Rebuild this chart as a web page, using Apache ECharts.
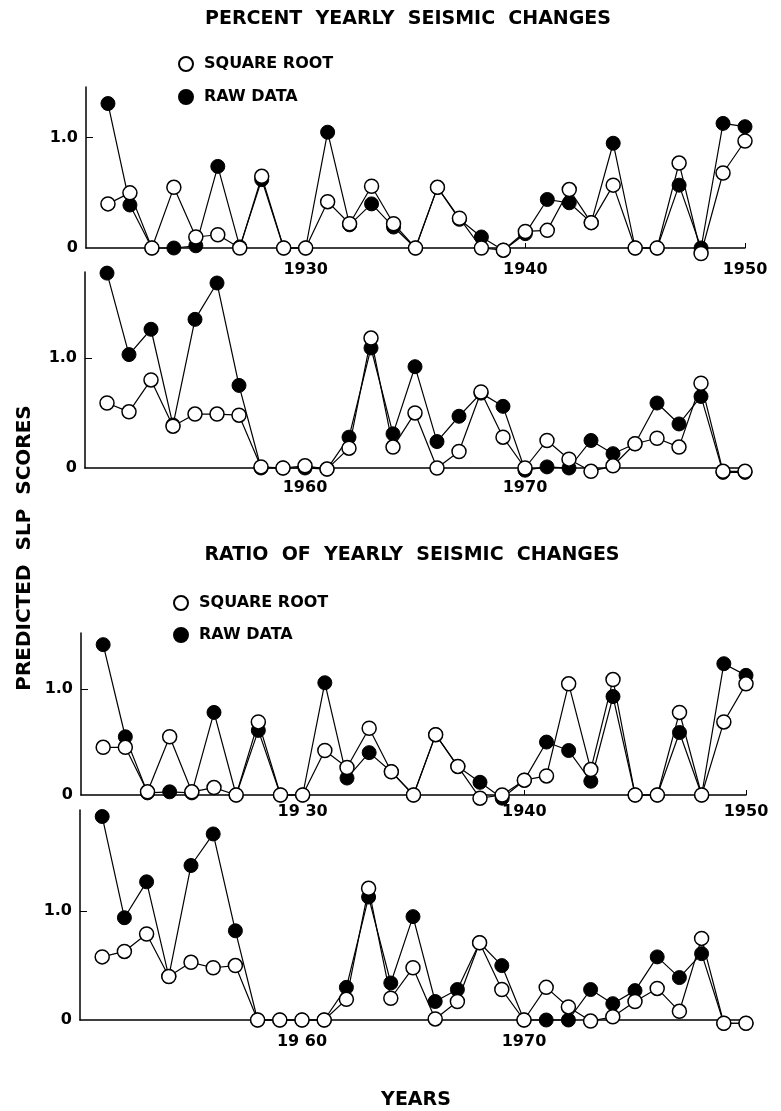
<!DOCTYPE html>
<html>
<head>
<meta charset="utf-8">
<title>Predicted SLP scores</title>
<script src="https://cdn.jsdelivr.net/npm/echarts@6/dist/echarts.min.js"></script>
<style>
  html, body { margin: 0; padding: 0; background: #fff; }
  #main { width: 781px; height: 1111px; }
</style>
</head>
<body>
<div id="main"></div>
<script>
// years on the two time strips
var yearsA = [1921, 1922, 1923, 1924, 1925, 1926, 1927, 1928, 1929, 1930,
              1931, 1932, 1933, 1934, 1935, 1936, 1937, 1938, 1939, 1940,
              1941, 1942, 1943, 1944, 1945, 1946, 1947, 1948, 1949, 1950];
var yearsB = [1951, 1952, 1953, 1954, 1955, 1956, 1957, 1958, 1959, 1960,
              1961, 1962, 1963, 1964, 1965, 1966, 1967, 1968, 1969, 1970,
              1971, 1972, 1973, 1974, 1975, 1976, 1977, 1978, 1979, 1980];

// percent yearly seismic changes
var pctSqrtA = [0.40, 0.50, 0, 0.55, 0.10, 0.12, 0, 0.65, 0, 0,
                0.42, 0.22, 0.56, 0.22, 0, 0.55, 0.27, 0, -0.02, 0.15,
                0.16, 0.53, 0.23, 0.57, 0, 0, 0.77, -0.05, 0.68, 0.97];
var pctRawA  = [1.31, 0.39, 0, 0, 0.02, 0.74, 0.01, 0.62, 0, 0,
                1.05, 0.21, 0.40, 0.19, 0, 0.55, 0.26, 0.10, -0.02, 0.13,
                0.44, 0.41, 0.23, 0.95, 0, 0, 0.57, 0, 1.13, 1.10];
var pctSqrtB = [0.59, 0.51, 0.80, 0.38, 0.49, 0.49, 0.48, 0.01, 0, 0.02,
                -0.01, 0.18, 1.18, 0.19, 0.50, 0, 0.15, 0.69, 0.28, 0,
                0.25, 0.08, -0.03, 0.02, 0.22, 0.27, 0.19, 0.77, -0.03, -0.03];
var pctRawB  = [1.77, 1.03, 1.26, 0.39, 1.35, 1.68, 0.75, 0, 0, 0,
                -0.01, 0.28, 1.09, 0.31, 0.92, 0.24, 0.47, 0.68, 0.56, -0.02,
                0.01, 0, 0.25, 0.13, 0.22, 0.59, 0.40, 0.65, -0.04, -0.04];

// ratio of yearly seismic changes
var ratSqrtA = [0.45, 0.45, 0.03, 0.55, 0.03, 0.07, 0, 0.69, 0, 0,
                0.42, 0.26, 0.63, 0.22, 0, 0.57, 0.27, -0.03, 0, 0.14,
                0.18, 1.05, 0.24, 1.09, 0, 0, 0.78, 0, 0.69, 1.05];
var ratRawA  = [1.42, 0.55, 0.02, 0.03, 0.02, 0.78, 0, 0.61, 0, 0,
                1.06, 0.16, 0.40, 0.22, 0, 0.57, 0.27, 0.12, -0.03, 0.14,
                0.50, 0.42, 0.13, 0.93, 0, 0, 0.59, 0, 1.24, 1.13];
var ratSqrtB = [0.58, 0.63, 0.79, 0.40, 0.53, 0.48, 0.50, 0, 0, 0,
                0, 0.19, 1.21, 0.20, 0.48, 0.01, 0.17, 0.71, 0.28, 0,
                0.30, 0.12, -0.01, 0.03, 0.17, 0.29, 0.08, 0.75, -0.03, -0.03];
var ratRawB  = [1.87, 0.94, 1.27, 0.40, 1.42, 1.71, 0.82, 0, 0, 0,
                0, 0.30, 1.13, 0.34, 0.95, 0.17, 0.28, 0.71, 0.50, 0,
                0, 0, 0.28, 0.15, 0.27, 0.58, 0.39, 0.61, -0.03, -0.03];

// tick labels
var xLabelsTop = [1930, 1940, 1950];
var xLabelsBottom = [1960, 1970];
var yLabels = [0, 1];

var FONT = 'DejaVu Sans';
var chart = echarts.init(document.getElementById('main'));

function pairs(xs, ys) {
  return xs.map(function (x, i) { return [x, ys[i]]; });
}

function xAxis(idx, min, max, labels, margin, fmt) {
  return {
    gridIndex: idx, type: 'value', min: min, max: max,
    axisLine: { lineStyle: { color: '#000', width: 1.5 } },
    axisTick: { show: true, inside: true, length: 5, customValues: labels, lineStyle: { color: '#000' } },
    axisLabel: { customValues: labels, margin: margin, color: '#000', fontFamily: FONT, fontWeight: 'bold', fontSize: 16,
                 formatter: fmt || function (v) { return String(v); } },
    splitLine: { show: false }
  };
}

function yAxis(idx, max) {
  return {
    gridIndex: idx, type: 'value', min: 0, max: max,
    axisLine: { show: true, lineStyle: { color: '#000', width: 1.5 } },
    axisTick: { show: true, inside: true, length: 7, customValues: [1], lineStyle: { color: '#000' } },
    axisLabel: { customValues: yLabels, margin: 8, color: '#000', fontFamily: FONT, fontWeight: 'bold', fontSize: 16,
                 formatter: function (v) { return v === 0 ? '0' : v.toFixed(1); } },
    splitLine: { show: false }
  };
}

function line(name, idx, xs, ys, open) {
  return {
    name: name, type: 'line', xAxisIndex: idx, yAxisIndex: idx,
    data: pairs(xs, ys), clip: false,
    symbol: 'circle', symbolSize: 14, showAllSymbol: true,
    lineStyle: { color: '#000', width: 1.2 },
    itemStyle: open ? { color: '#fff', borderColor: '#000', borderWidth: 1.5 }
                    : { color: '#000', borderColor: '#000', borderWidth: 1 },
    z: open ? 3 : 2
  };
}

// the lower strips print "19 30" / "19 60" with a gap
function spaced(v) { var s = String(v); return s.slice(0, 2) + ' ' + s.slice(2); }

var legendText = { color: '#000', fontFamily: FONT, fontWeight: 'bold', fontSize: 16, padding: [0, 0, 0, 6] };

var option = {
  animation: false,
  backgroundColor: '#fff',
  grid: [
    { left: 86, top: 87, width: 659, height: 161 },
    { left: 85, top: 272, width: 660, height: 196 },
    { left: 81, top: 633, width: 665, height: 162 },
    { left: 80, top: 810, width: 666, height: 210 }
  ],
  xAxis: [
    xAxis(0, 1920, 1950, xLabelsTop, 14),
    xAxis(1, 1950, 1980, xLabelsBottom, 12),
    xAxis(2, 1920, 1950, xLabelsTop, 9, function (v) { return v === 1930 ? spaced(v) : String(v); }),
    xAxis(3, 1950, 1980, xLabelsBottom, 14, function (v) { return v === 1960 ? spaced(v) : String(v); })
  ],
  yAxis: [yAxis(0, 1.46), yAxis(1, 1.78), yAxis(2, 1.53), yAxis(3, 1.93)],
  legend: [
    { left: 173, top: 51, orient: 'vertical', icon: 'circle', itemWidth: 14, itemHeight: 14, itemGap: 17,
      data: ['SQUARE ROOT', 'RAW DATA'], textStyle: legendText, selectedMode: false },
    { left: 168, top: 590, orient: 'vertical', icon: 'circle', itemWidth: 14, itemHeight: 14, itemGap: 16,
      data: ['SQUARE ROOT', 'RAW DATA'], textStyle: legendText, selectedMode: false }
  ],
  graphic: [
    { type: 'text', x: 408, y: 19,
      style: { text: 'PERCENT  YEARLY  SEISMIC  CHANGES', fill: '#000', font: 'bold 19px "DejaVu Sans"',
               align: 'center', verticalAlign: 'middle' } },
    { type: 'text', x: 412, y: 555,
      style: { text: 'RATIO  OF  YEARLY  SEISMIC  CHANGES', fill: '#000', font: 'bold 19px "DejaVu Sans"',
               align: 'center', verticalAlign: 'middle' } },
    { type: 'text', x: 25, y: 548, rotation: Math.PI / 2,
      style: { text: 'PREDICTED  SLP  SCORES', fill: '#000', font: 'bold 20px "DejaVu Sans"',
               align: 'center', verticalAlign: 'middle' } },
    { type: 'text', x: 416, y: 1100,
      style: { text: 'YEARS', fill: '#000', font: 'bold 19px "DejaVu Sans"',
               align: 'center', verticalAlign: 'middle' } }
  ],
  series: [
    line('RAW DATA', 0, yearsA, pctRawA, false),
    line('SQUARE ROOT', 0, yearsA, pctSqrtA, true),
    line('RAW DATA', 1, yearsB, pctRawB, false),
    line('SQUARE ROOT', 1, yearsB, pctSqrtB, true),
    line('RAW DATA', 2, yearsA, ratRawA, false),
    line('SQUARE ROOT', 2, yearsA, ratSqrtA, true),
    line('RAW DATA', 3, yearsB, ratRawB, false),
    line('SQUARE ROOT', 3, yearsB, ratSqrtB, true)
  ]
};

chart.setOption(option);
</script>
</body>
</html>
